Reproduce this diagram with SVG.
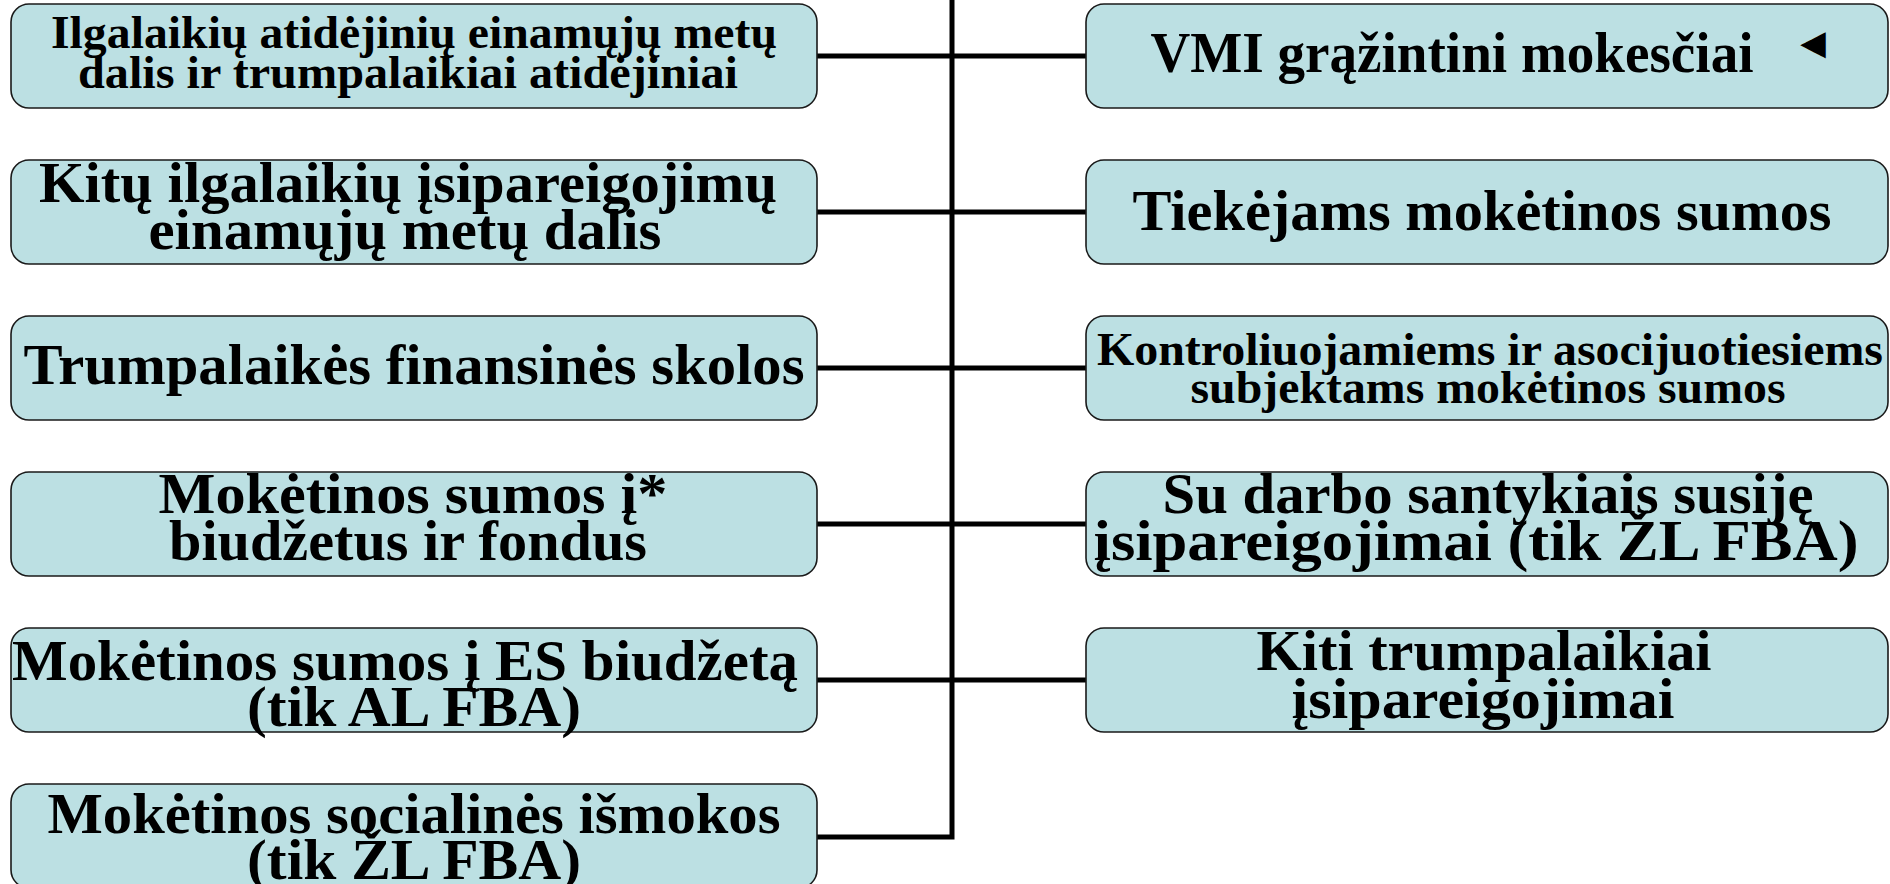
<svg xmlns="http://www.w3.org/2000/svg" width="1890" height="884" viewBox="0 0 1890 884">
<style>
.box{fill:#BCE0E3;stroke:#1a1a1a;stroke-width:1.6}
.t{font-family:"Liberation Serif","Times New Roman",serif;font-weight:bold;fill:#000;text-anchor:middle}
.L{font-size:56px}
.S{font-size:46px}
.con{stroke:#000;stroke-width:5;fill:none}
</style>
<rect width="1890" height="884" fill="#fff"/>
<g id="connectors">
<path class="con" d="M952,0 V837 H817"/>
<line class="con" x1="817" y1="56" x2="1086" y2="56"/>
<line class="con" x1="817" y1="212" x2="1086" y2="212"/>
<line class="con" x1="817" y1="368" x2="1086" y2="368"/>
<line class="con" x1="817" y1="524" x2="1086" y2="524"/>
<line class="con" x1="817" y1="680" x2="1086" y2="680"/>
</g>
<g id="n-left-1">
<rect class="box" x="11" y="4" width="806" height="104" rx="18"/>
<text class="t S" x="414" y="48" textLength="726" lengthAdjust="spacingAndGlyphs">Ilgalaikių atidėjinių einamųjų metų</text>
<text class="t S" x="408" y="88" textLength="660" lengthAdjust="spacingAndGlyphs">dalis ir trumpalaikiai atidėjiniai</text>
</g>
<g id="n-left-2">
<rect class="box" x="11" y="160" width="806" height="104" rx="18"/>
<text class="t L" x="408" y="202" textLength="738" lengthAdjust="spacingAndGlyphs">Kitų ilgalaikių įsipareigojimų</text>
<text class="t L" x="405" y="249" textLength="513" lengthAdjust="spacingAndGlyphs">einamųjų metų dalis</text>
</g>
<g id="n-left-3">
<rect class="box" x="11" y="316" width="806" height="104" rx="18"/>
<text class="t L" x="414" y="384" textLength="781" lengthAdjust="spacingAndGlyphs">Trumpalaikės finansinės skolos</text>
</g>
<g id="n-left-4">
<rect class="box" x="11" y="472" width="806" height="104" rx="18"/>
<text class="t L" x="413" y="513" textLength="509" lengthAdjust="spacingAndGlyphs">Mokėtinos sumos į*</text>
<text class="t L" x="408" y="560" textLength="478" lengthAdjust="spacingAndGlyphs">biudžetus ir fondus</text>
</g>
<g id="n-left-5">
<rect class="box" x="11" y="628" width="806" height="104" rx="18"/>
<text class="t L" x="405" y="680" textLength="786" lengthAdjust="spacingAndGlyphs">Mokėtinos sumos į ES biudžetą</text>
<text class="t L" x="414" y="726" textLength="334" lengthAdjust="spacingAndGlyphs">(tik AL FBA)</text>
</g>
<g id="n-left-6">
<rect class="box" x="11" y="784" width="806" height="104" rx="18"/>
<text class="t L" x="414" y="833" textLength="733" lengthAdjust="spacingAndGlyphs">Mokėtinos socialinės išmokos</text>
<text class="t L" x="414" y="879" textLength="334" lengthAdjust="spacingAndGlyphs">(tik ŽL FBA)</text>
</g>
<g id="n-right-1">
<rect class="box" x="1086" y="4" width="802" height="104" rx="18"/>
<text class="t L" x="1452" y="72" textLength="603" lengthAdjust="spacingAndGlyphs">VMI grąžintini mokesčiai</text>
<text transform="translate(1800,59) scale(0.7,1.1)" style="font-family:'DejaVu Sans',sans-serif;font-size:48px;fill:#000">◄</text>
</g>
<g id="n-right-2">
<rect class="box" x="1086" y="160" width="802" height="104" rx="18"/>
<text class="t L" x="1482" y="230" textLength="699" lengthAdjust="spacingAndGlyphs">Tiekėjams mokėtinos sumos</text>
</g>
<g id="n-right-3">
<rect class="box" x="1086" y="316" width="802" height="104" rx="18"/>
<text class="t S" x="1490" y="365" textLength="786" lengthAdjust="spacingAndGlyphs">Kontroliuojamiems ir asocijuotiesiems</text>
<text class="t S" x="1488" y="403" textLength="595" lengthAdjust="spacingAndGlyphs">subjektams mokėtinos sumos</text>
</g>
<g id="n-right-4">
<rect class="box" x="1086" y="472" width="802" height="104" rx="18"/>
<text class="t L" x="1488" y="513" textLength="651" lengthAdjust="spacingAndGlyphs">Su darbo santykiais susiję</text>
<text class="t L" x="1476" y="560" textLength="765" lengthAdjust="spacingAndGlyphs">įsipareigojimai (tik ŽL FBA)</text>
</g>
<g id="n-right-5">
<rect class="box" x="1086" y="628" width="802" height="104" rx="18"/>
<text class="t L" x="1484" y="670" textLength="455" lengthAdjust="spacingAndGlyphs">Kiti trumpalaikiai</text>
<text class="t L" x="1483" y="718" textLength="383" lengthAdjust="spacingAndGlyphs">įsipareigojimai</text>
</g>
</svg>
